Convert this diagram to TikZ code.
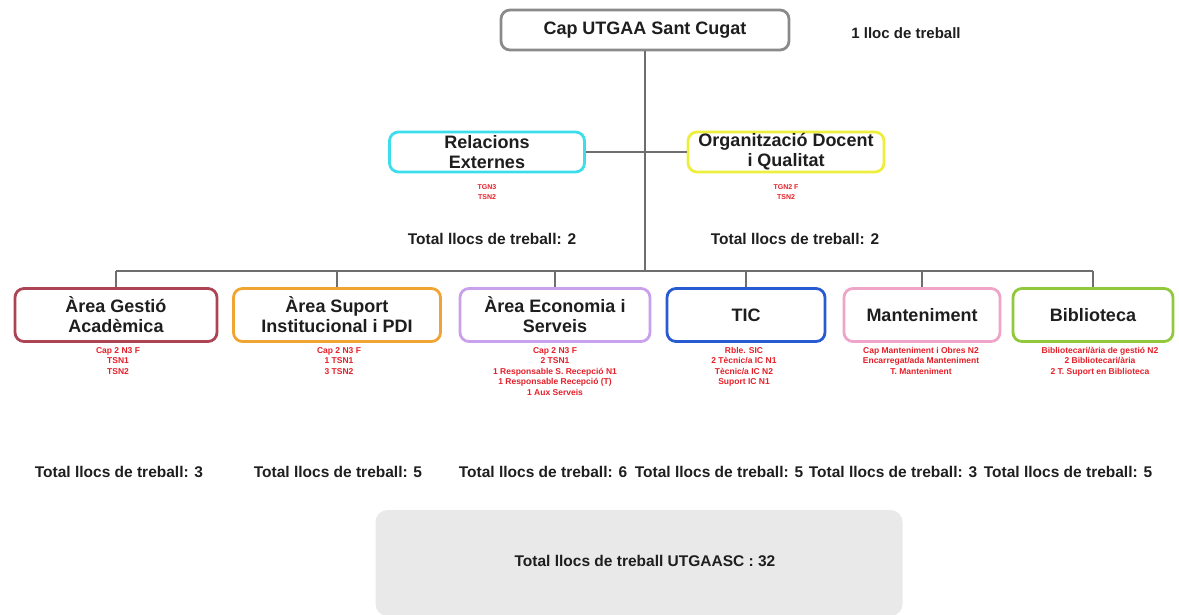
\documentclass[tikz,border=0pt]{standalone}
\usepackage{fontspec}
\setmainfont{Liberation Sans}
\definecolor{capgray}{RGB}{138,138,138}
\definecolor{cyanb}{RGB}{60,222,236}
\definecolor{yellowb}{RGB}{238,238,60}
\definecolor{redb}{RGB}{172,68,84}
\definecolor{orangeb}{RGB}{240,165,50}
\definecolor{lavb}{RGB}{200,160,235}
\definecolor{blueb}{RGB}{40,90,210}
\definecolor{pinkb}{RGB}{238,165,200}
\definecolor{greenb}{RGB}{145,200,60}
\definecolor{redtxt}{RGB}{230,30,40}
\definecolor{linegray}{RGB}{110,110,110}
\definecolor{totgray}{RGB}{233,233,233}
\definecolor{txt}{RGB}{30,30,30}
\begin{document}
\begin{tikzpicture}[x=1pt,y=-1pt,
  box/.style={draw, line width=2.8pt, rounded corners=9pt, fill=white, align=center,
    text=txt, font=\bfseries\fontsize{18}{20}\selectfont, inner sep=0pt, minimum height=40},
  lowbox/.style={box, minimum height=53},
  conn/.style={draw=linegray, line width=1.3pt},
  redl/.style={text=redtxt, font=\bfseries\fontsize{8.5}{10.5}\selectfont, align=center, inner sep=0pt, anchor=north},
  redsm/.style={text=redtxt, font=\bfseries\fontsize{7}{10.5}\selectfont, align=center, inner sep=0pt, anchor=north},
  tot/.style={text=txt, font=\bfseries\fontsize{15.5}{18}\selectfont, inner sep=0pt}]
\useasboundingbox (0,0) rectangle (1179,614);

% top
\node[box, draw=capgray, minimum width=288] (cap) at (645,30) {Cap UTGAA Sant Cugat};
\node[tot, font=\bfseries\fontsize{15}{18}\selectfont] (lloc) at (906,33) {1 lloc de treball};

% staff
\node[box, draw=cyanb, minimum width=195] (rel) at (487,152) {Relacions\\Externes};
\node[box, draw=yellowb, minimum width=196] (org) at (786,152) {Organització Docent\\i Qualitat};
\node[redsm] (relr) at (487,184) {TGN3\\TSN2};
\node[redsm] (orgr) at (786,184) {TGN2 F\\TSN2};
\node[tot] (relt) at (492,239) {Total llocs de treball: 2};
\node[tot] (orgt) at (795,239) {Total llocs de treball: 2};

\coordinate (hub) at (645,271);
\draw[conn] (cap.south) -- (hub);
\draw[conn] (rel.east) -- (org.west);

% areas
\node[lowbox, draw=redb, minimum width=202] (ga) at (116,315) {Àrea Gestió\\Acadèmica};
\node[lowbox, draw=orangeb, minimum width=207] (su) at (337,315) {Àrea Suport\\Institucional i PDI};
\node[lowbox, draw=lavb, minimum width=190] (ec) at (555,315) {Àrea Economia i\\Serveis};
\node[lowbox, draw=blueb, minimum width=158] (tic) at (746,315) {TIC};
\node[lowbox, draw=pinkb, minimum width=156] (ma) at (922,315) {Manteniment};
\node[lowbox, draw=greenb, minimum width=160] (bi) at (1093,315) {Biblioteca};

\draw[conn] (ga.north |- hub) -- (bi.north |- hub);
\foreach \n in {ga,su,ec,tic,ma,bi}{\draw[conn] (\n.north |- hub) -- (\n.north);}

% red staff lists
\node[redl] (gar) at (118,347) {Cap 2 N3 F\\TSN1\\TSN2};
\node[redl] (sur) at (339,347) {Cap 2 N3 F\\1 TSN1\\3 TSN2};
\node[redl] (ecr) at (555,347) {Cap 2 N3 F\\2 TSN1\\1 Responsable S. Recepció N1\\1 Responsable Recepció (T)\\1 Aux Serveis};
\node[redl] (ticr) at (744,347) {Rble. SIC\\2 Tècnic/a IC N1\\Tècnic/a IC N2\\Suport IC N1};
\node[redl] (mar) at (921,347) {Cap Manteniment i Obres N2\\Encarregat/ada Manteniment\\T. Manteniment};
\node[redl] (bir) at (1100,347) {Bibliotecari/ària de gestió N2\\2 Bibliotecari/ària\\2 T. Suport en Biblioteca};

% totals
\node[tot] (gat) at (119,472) {Total llocs de treball: 3};
\node[tot] (sut) at (338,472) {Total llocs de treball: 5};
\node[tot] (ect) at (543,472) {Total llocs de treball: 6};
\node[tot] (tict) at (719,472) {Total llocs de treball: 5};
\node[tot] (mat) at (893,472) {Total llocs de treball: 3};
\node[tot] (bit) at (1068,472) {Total llocs de treball: 5};

% grand total
\node[fill=totgray, rounded corners=12pt, minimum width=527, minimum height=106, inner sep=0pt] (grand) at (639,563) {};
\node[tot] (grandt) at (645,561) {Total llocs de treball UTGAASC : 32};
\end{tikzpicture}
\end{document}
